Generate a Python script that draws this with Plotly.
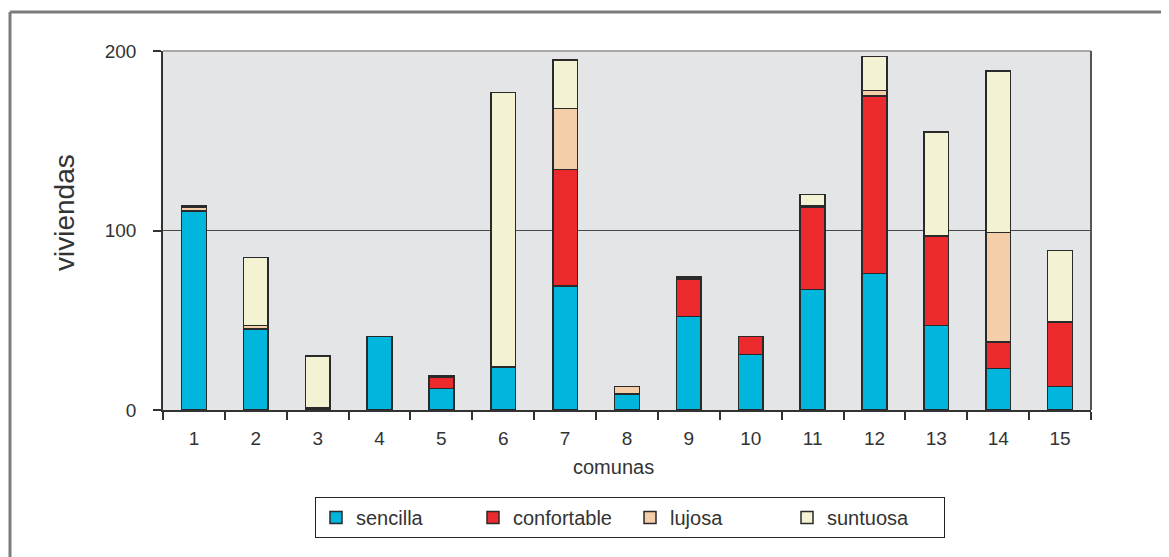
import plotly.graph_objects as go

comunas = [str(i) for i in range(1, 16)]
sencilla = [111, 45, 1, 41, 12, 24, 69, 9, 52, 31, 67, 76, 47, 23, 13]
confortable = [0, 0, 0, 0, 6, 0, 65, 0, 21, 10, 46, 99, 50, 15, 36]
lujosa = [2, 2, 0, 0, 1, 0, 34, 4, 1, 0, 1, 3, 0, 61, 0]
suntuosa = [1, 38, 29, 0, 0, 153, 27, 0, 0, 0, 6, 19, 58, 90, 40]

series = [
    ("sencilla", sencilla, "#00B6DC"),
    ("confortable", confortable, "#EC2A2E"),
    ("lujosa", lujosa, "#F4CEA9"),
    ("suntuosa", suntuosa, "#F3F2D3"),
]

# page has an 8px body margin; figure coordinates = page coordinates - 8
OFF = 8
W, H = 1169 - OFF, 557 - OFF
L, R, T, B = 163 - OFF, 1091 - OFF, 51 - OFF, 410 - OFF


def px(x):  # page x -> paper x
    return (x - OFF - L) / (R - L)


def py(y):  # page y -> paper y
    return (B - (y - OFF)) / (B - T)


fig = go.Figure()
for name, vals, col in series:
    fig.add_trace(go.Bar(
        x=comunas, y=[v if v else None for v in vals], name=name,
        marker=dict(color=col, line=dict(color="#2a2a2a", width=1.5)),
    ))

font = "Liberation Sans, Arial, sans-serif"
axcol = "#333333"
fig.update_layout(
    width=W, height=H,
    margin=dict(l=L, r=W - R, t=T, b=H - B),
    barmode="stack", bargap=0.6,
    plot_bgcolor="#E4E5E7", paper_bgcolor="white",
    font=dict(family=font, size=19, color="#333333"),
    xaxis=dict(
        type="category", tickson="boundaries", ticks="outside", ticklen=8,
        tickcolor=axcol, tickwidth=1.5, showline=True, linecolor=axcol,
        linewidth=1.5, showgrid=False, ticklabelstandoff=10,
        tickfont=dict(size=19),
    ),
    yaxis=dict(
        range=[0, 200], dtick=100, ticks="outside", ticklen=8,
        tickcolor=axcol, tickwidth=1.5, showline=True, linecolor=axcol,
        linewidth=1.5, showgrid=True, gridcolor="#4a4a4a", gridwidth=1.2,
        zeroline=False, ticklabelstandoff=13,
        tickfont=dict(size=19),
    ),
    legend=dict(
        orientation="h", x=px(630), xanchor="center", y=py(497), yanchor="top",
        bordercolor="#222222", borderwidth=1, bgcolor="white",
        font=dict(size=20), traceorder="normal",
        entrywidth=112, entrywidthmode="pixels",
    ),
    annotations=[
        dict(text="viviendas", xref="paper", yref="paper", x=px(65), y=py(213),
             xanchor="center", yanchor="middle", textangle=-90, showarrow=False,
             font=dict(size=28, color="#333333")),
        dict(text="comunas", xref="paper", yref="paper", x=px(613), y=py(467),
             xanchor="center", yanchor="middle", showarrow=False,
             font=dict(size=20, color="#333333")),
    ],
    shapes=[
        dict(type="line", xref="paper", yref="paper", x0=0, x1=1, y0=1, y1=1,
             line=dict(color="#A8A8A8", width=2)),
        dict(type="line", xref="paper", yref="paper", x0=1, x1=1, y0=0, y1=1,
             line=dict(color="#555555", width=2)),
        dict(type="line", xref="paper", yref="paper", x0=px(10), x1=px(1180),
             y0=py(12), y1=py(12), line=dict(color="#7c7c7c", width=3)),
        dict(type="line", xref="paper", yref="paper", x0=px(10), x1=px(10),
             y0=py(12), y1=py(570), line=dict(color="#7c7c7c", width=3)),
    ],
)

fig.write_html("out.html")
